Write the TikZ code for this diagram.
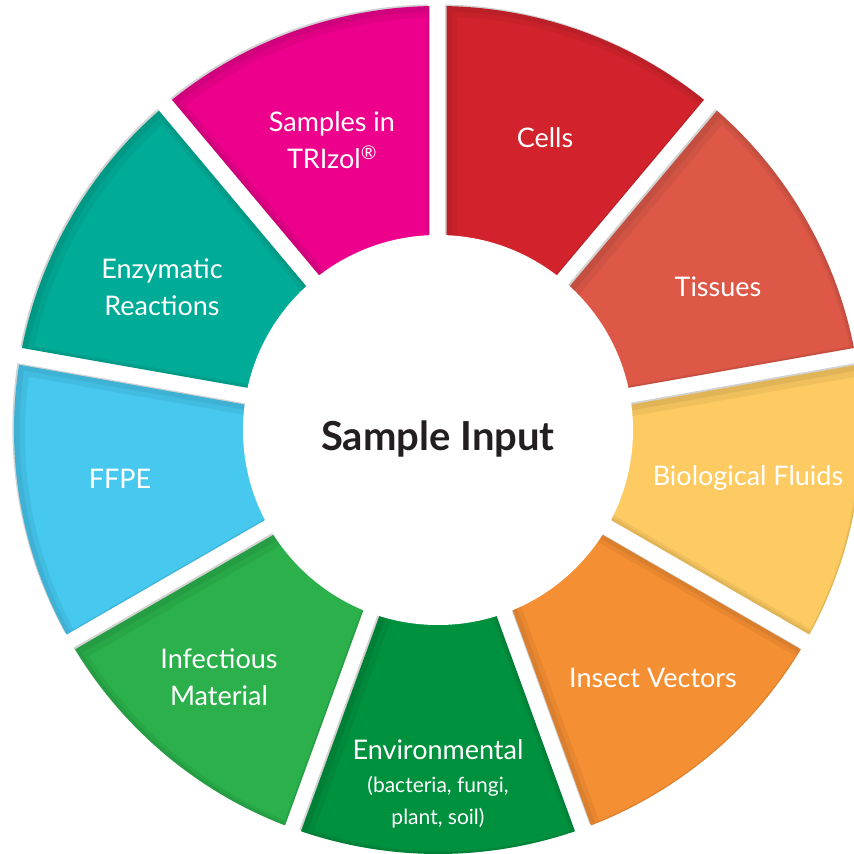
\documentclass[tikz,border=0pt]{standalone}
\usepackage{fontspec}
\setmainfont{Lato}
\usepackage{tikz}

\definecolor{trizolc}{HTML}{EC008C}
\definecolor{cellsc}{HTML}{D2232D}
\definecolor{tissuesc}{HTML}{DD5847}
\definecolor{fluidsc}{HTML}{FDCB62}
\definecolor{insectc}{HTML}{F58F33}
\definecolor{envc}{HTML}{00913F}
\definecolor{infectc}{HTML}{2BB04B}
\definecolor{ffpec}{HTML}{46C8EF}
\definecolor{enzymc}{HTML}{00AC97}
\definecolor{inkc}{HTML}{231F20}

% one ring piece, centred on angle #1, 40 degrees wide, with a straight gap
\newcommand\wedgepath[1]{(#1:24.85) -- ({#1-18.85}:424)
    arc[start angle={#1-18.85}, end angle={#1+18.85}, radius=424pt] -- cycle}

\begin{document}
\begin{tikzpicture}[x=1pt, y=1pt,
    piece/.style={white, font=\fontsize{27}{37}\selectfont, align=center},
    small/.style={white, font=\fontsize{21}{32}\selectfont, align=center}]
    \useasboundingbox (-438,-424) rectangle (416,430);
    % ring pieces
    \foreach \ang/\col in {110/trizolc, 70/cellsc, 30/tissuesc, -10/fluidsc,
        -50/insectc, -90/envc, -130/infectc, 190/ffpec, 150/enzymc} {
        \fill[gray!35, shift={(-1.6,1.6)}] \wedgepath{\ang};
        \fill[\col] \wedgepath{\ang};
        \begin{scope}
            \clip \wedgepath{\ang};
            \draw[black, opacity=.05, line width=14pt, shift={(4,-4)}] \wedgepath{\ang};
            \draw[black, opacity=.06, line width=7pt, shift={(2,-2)}] \wedgepath{\ang};
        \end{scope}
    }
    % centre
    \fill[white] (0,0) circle[radius=195pt];
    \node[text=inkc, font=\fontsize{40}{42}\selectfont\bfseries] (input) at (0,-9) {Sample Input};

    % labels
    \node[piece] (trizol) at (-106,290) {Samples in\\TRIzol\textsuperscript{®}};
    \node[piece] (cells) at (107,292) {Cells};
    \node[piece] (tissues) at (280,143) {Tissues};
    \node[piece] (fluids) at (310,-48) {Biological Fluids};
    \node[piece] (insect) at (215,-248) {Insect Vectors};
    \node[piece] (env) at (0,-320) {Environmental};
    \node[small] (envsub) at (0,-372) {(bacteria, fungi,\\plant, soil)};
    \node[piece] (infect) at (-219,-247) {Infectious\\Material};
    \node[piece] (ffpe) at (-318,-49) {FFPE};
    \node[piece] (enzym) at (-276,143) {Enzymatic\\Reactions};
\end{tikzpicture}
\end{document}
